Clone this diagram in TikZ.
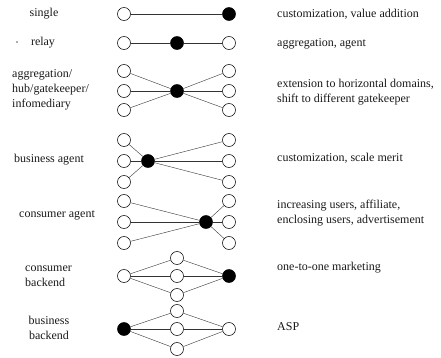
\documentclass[tikz,border=0pt]{standalone}
\usepackage{fontspec}
\setmainfont{Liberation Serif}
\begin{document}
\begin{tikzpicture}[x=1pt,y=-1pt,
  open/.style={circle, draw, line width=0.55pt, minimum size=13pt, inner sep=0pt, fill=white},
  full/.style={open, fill=black},
  link/.style={line width=0.4pt, black!80},
  lbl/.style={font=\fontsize{12}{15}\selectfont, inner sep=0pt, align=left, text=black!90}]
\useasboundingbox (0,0) rectangle (441,357);
% row 1 single
\node[open] (a1) at (124,14) {};
\node[full] (a2) at (229,14) {};
\draw[link] (a1) -- (a2);
% row 2 relay
\node[open] (b1) at (124,43) {};
\node[full] (b2) at (177,43) {};
\node[open] (b3) at (229,43) {};
\draw[link] (b1) -- (b2) -- (b3);
% row 3 aggregation
\node[full] (cc) at (177,91) {};
\foreach \i/\y in {1/71,2/91,3/110}{
  \node[open] (cl\i) at (124,\y) {};
  \node[open] (cr\i) at (229,\y) {};
  \draw[link] (cl\i) -- (cc) -- (cr\i);
}
% row 4 business agent
\node[full] (dc) at (148,161) {};
\foreach \i/\y in {1/140,2/161,3/182}{
  \node[open] (dl\i) at (124,\y) {};
  \node[open] (dr\i) at (229,\y) {};
  \draw[link] (dl\i) -- (dc) -- (dr\i);
}
% row 5 consumer agent
\node[full] (ec) at (206,222) {};
\foreach \i/\y in {1/201,2/222,3/243}{
  \node[open] (el\i) at (124,\y) {};
  \node[open] (er\i) at (229,\y) {};
  \draw[link] (el\i) -- (ec) -- (er\i);
}
% row 6 consumer backend
\node[open] (fl) at (124,276) {};
\node[full] (fr) at (229,276) {};
\foreach \i/\y in {1/258,2/276,3/295}{
  \node[open] (fm\i) at (177,\y) {};
  \draw[link] (fl) -- (fm\i) -- (fr);
}
% row 7 business backend
\node[full] (gl) at (124,329) {};
\node[open] (gr) at (229,329) {};
\foreach \i/\y in {1/311,2/329,3/349}{
  \node[open] (gm\i) at (177,\y) {};
  \draw[link] (gl) -- (gm\i) -- (gr);
}
% left labels
\node[lbl] (t1) at (44,14) {single};
\node[lbl] (t2d) at (17,44) {·};
\node[lbl] (t2) at (43,43) {relay};
\node[lbl, anchor=west] (t3) at (12,90) {aggregation/\\hub/gatekeeper/\\infomediary};
\node[lbl, anchor=west] (t4) at (14,160) {business agent};
\node[lbl, anchor=west] (t5) at (19,215) {consumer agent};
\node[lbl, anchor=west] (t6) at (25,276) {consumer\\backend};
\node[lbl, align=center] (t7) at (49,328) {business\\backend};
% right labels
\node[lbl, anchor=west] (r1) at (277,14) {customization, value addition};
\node[lbl, anchor=west] (r2) at (277,44) {aggregation, agent};
\node[lbl, anchor=west] (r3) at (277,92) {extension to horizontal domains,\\shift to different gatekeeper};
\node[lbl, anchor=west] (r4) at (277,158) {customization, scale merit};
\node[lbl, anchor=west] (r5) at (277,213) {increasing users, affiliate,\\enclosing users, advertisement};
\node[lbl, anchor=west] (r6) at (277,268) {one-to-one marketing};
\node[lbl, anchor=west] (r7) at (277,327) {ASP};
\end{tikzpicture}
\end{document}
